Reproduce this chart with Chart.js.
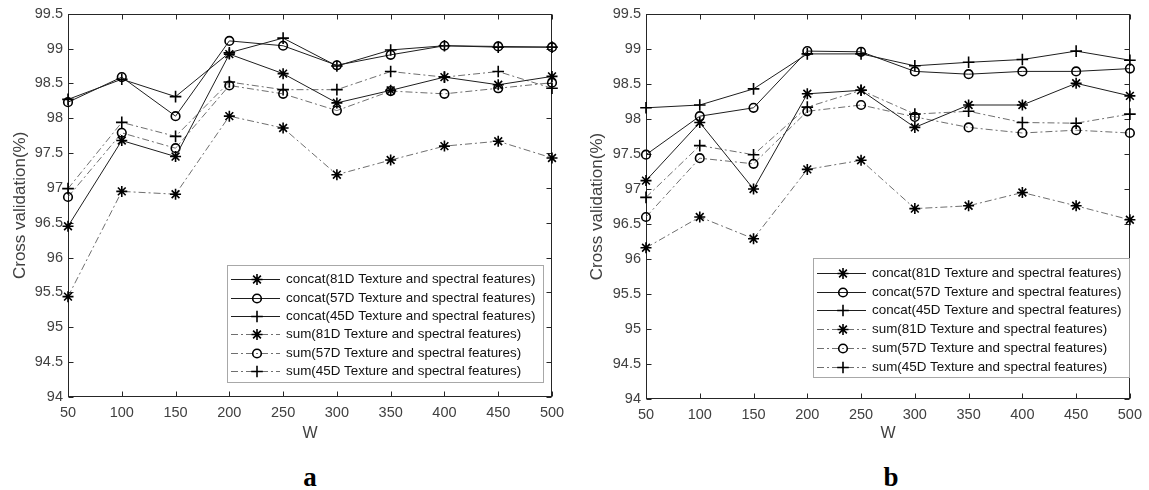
<!DOCTYPE html>
<html>
<head>
<meta charset="utf-8">
<script src="https://cdn.jsdelivr.net/npm/chart.js@4.4.0/dist/chart.umd.min.js"></script>
<style>
  body { margin: 0; background: #fff; width: 1149px; height: 490px; position: relative; overflow: hidden; }
  canvas { position: absolute; top: 0; }
  #panelA { left: 0; }
  #panelB { left: 575px; }
  .tag { position: absolute; font-family: "Liberation Serif", "DejaVu Serif", serif; font-weight: bold; font-size: 27px; color: #000; transform: translate(-50%, -50%); }
</style>
</head>
<body>
<canvas id="panelA" width="575" height="450"></canvas>
<canvas id="panelB" width="574" height="450"></canvas>
<div class="tag" style="left:310px; top:477px;">a</div>
<div class="tag" style="left:891px; top:477px;">b</div>

<script>
// DATA

const wValues = [50, 100, 150, 200, 250, 300, 350, 400, 450, 500];
const yTicks = [94, 94.5, 95, 95.5, 96, 96.5, 97, 97.5, 98, 98.5, 99, 99.5];

const seriesNames = [
    "concat(81D Texture and spectral features)",
    "concat(57D Texture and spectral features)",
    "concat(45D Texture and spectral features)",
    "sum(81D Texture and spectral features)",
    "sum(57D Texture and spectral features)",
    "sum(45D Texture and spectral features)",
];

// panel a
const aConcat81 = [96.45, 97.68, 97.45, 98.92, 98.64, 98.22, 98.40, 98.59, 98.48, 98.60];
const aConcat57 = [98.23, 98.59, 98.03, 99.11, 99.04, 98.76, 98.91, 99.04, 99.03, 99.02];
const aConcat45 = [98.27, 98.56, 98.31, 98.94, 99.15, 98.75, 98.98, 99.04, 99.02, 99.02];
const aSum81 = [95.44, 96.95, 96.91, 98.03, 97.86, 97.19, 97.40, 97.60, 97.67, 97.43];
const aSum57 = [96.87, 97.79, 97.57, 98.47, 98.35, 98.11, 98.39, 98.35, 98.43, 98.51];
const aSum45 = [96.99, 97.94, 97.74, 98.52, 98.41, 98.41, 98.67, 98.59, 98.67, 98.43];

// panel b
const bConcat81 = [97.12, 97.95, 97.00, 98.36, 98.41, 97.88, 98.20, 98.20, 98.51, 98.33];
const bConcat57 = [97.49, 98.04, 98.16, 98.97, 98.96, 98.68, 98.64, 98.68, 98.68, 98.72];
const bConcat45 = [98.16, 98.20, 98.43, 98.93, 98.93, 98.76, 98.81, 98.85, 98.97, 98.84];
const bSum81 = [96.16, 96.60, 96.29, 97.28, 97.41, 96.72, 96.76, 96.95, 96.76, 96.56];
const bSum57 = [96.60, 97.44, 97.36, 98.11, 98.20, 98.03, 97.88, 97.80, 97.84, 97.80];
const bSum45 = [96.88, 97.62, 97.49, 98.17, 98.41, 98.07, 98.11, 97.95, 97.94, 98.07];

// ESTILO

const FONT = '"Liberation Sans", Arial, Helvetica, sans-serif';
const AXIS_COLOR = "#262626";
const TEXT_COLOR = "#404040";
const markers = ["star", "circle", "cross", "star", "circle", "cross"];
const markerSize = { star: 5.5, circle: 4.3, cross: 5.8 };

// caixa do eixo com ticks para dentro (estilo matlab)
const boxTicks = {
    id: "boxTicks",
    beforeDatasetsDraw(chart) {
        const { ctx, chartArea: a, scales } = chart;
        const L = Math.round(a.left) + 0.5, R = Math.round(a.right) - 0.5;
        const T = Math.round(a.top) + 0.5, B = Math.round(a.bottom) - 0.5;
        ctx.save();
        ctx.strokeStyle = AXIS_COLOR;
        ctx.lineWidth = 1;
        ctx.strokeRect(L, T, R - L, B - T);
        ctx.beginPath();
        scales.x.ticks.forEach((t) => {
            const px = Math.round(scales.x.getPixelForValue(t.value)) + 0.5;
            ctx.moveTo(px, B); ctx.lineTo(px, B - 5);
            ctx.moveTo(px, T); ctx.lineTo(px, T + 5);
        });
        scales.y.ticks.forEach((t) => {
            const py = Math.round(scales.y.getPixelForValue(t.value)) + 0.5;
            ctx.moveTo(L, py); ctx.lineTo(L + 5, py);
            ctx.moveTo(R, py); ctx.lineTo(R - 5, py);
        });
        ctx.stroke();
        ctx.restore();
    },
};

// legenda dentro do grafico, com amostra de linha + marcador
const boxLegend = {
    id: "boxLegend",
    afterDatasetsDraw(chart, args, o) {
        const ctx = chart.ctx;
        ctx.save();
        ctx.fillStyle = "#fff";
        ctx.fillRect(o.left, o.top, o.width, o.height);
        ctx.strokeStyle = "#a8a8a8";
        ctx.lineWidth = 1;
        ctx.strokeRect(o.left + 0.5, o.top + 0.5, o.width, o.height);
        chart.data.datasets.forEach((ds, i) => {
            const yy = Math.round(o.top + o.firstRow + i * o.rowGap) + 0.5;
            ctx.strokeStyle = ds.borderColor;
            ctx.lineWidth = ds.borderWidth;
            ctx.setLineDash(ds.borderDash);
            ctx.beginPath();
            ctx.moveTo(o.left + 4, yy);
            ctx.lineTo(o.left + 53, yy);
            ctx.stroke();
            ctx.setLineDash([]);
            ctx.strokeStyle = "#000";
            ctx.fillStyle = "rgba(0,0,0,0)";
            ctx.lineWidth = ds.pointBorderWidth;
            Chart.helpers.drawPoint(ctx, {
                pointStyle: ds.pointStyle,
                radius: ds.pointRadius,
                rotation: 0,
                borderWidth: ds.pointBorderWidth,
            }, o.left + 30, yy);
            ctx.fillStyle = "#111";
            ctx.font = "13.4px " + FONT;
            ctx.textBaseline = "middle";
            ctx.fillText(ds.label, o.left + 59, yy);
        });
        ctx.restore();
    },
};

function makePanel(canvasId, series, area, legend, titlePad) {
    const cv = document.getElementById(canvasId);
    const W = cv.width, H = cv.height;

    const datasets = series.map((values, i) => {
        const dashed = i >= 3;
        return {
            label: seriesNames[i],
            data: values.map((v, k) => ({ x: wValues[k], y: v })),
            borderColor: dashed ? "#4a4a4a" : "#1e1e1e",
            borderWidth: dashed ? 0.8 : 1,
            borderDash: dashed ? [7, 3, 2, 3] : [],
            pointStyle: markers[i],
            pointRadius: markerSize[markers[i]],
            pointBorderColor: "#000",
            pointBackgroundColor: "rgba(0,0,0,0)",
            pointBorderWidth: 1.6,
            tension: 0,
            fill: false,
            clip: false,
        };
    });

    return new Chart(cv, {
        type: "line",
        data: { datasets },
        plugins: [boxTicks, boxLegend],
        options: {
            responsive: false,
            animation: false,
            devicePixelRatio: 1,
            layout: { padding: { left: 0, top: area.top, right: W - area.right, bottom: 0 } },
            plugins: {
                legend: { display: false },
                tooltip: { enabled: false },
                boxLegend: legend,
            },
            scales: {
                x: {
                    type: "linear",
                    min: 50,
                    max: 500,
                    afterBuildTicks: (s) => { s.ticks = wValues.map((v) => ({ value: v })); },
                    afterFit: (s) => { s.height = H - area.bottom; },
                    grid: { display: false, drawTicks: false },
                    border: { display: false },
                    ticks: {
                        autoSkip: false, maxRotation: 0, padding: 7,
                        color: TEXT_COLOR, font: { family: FONT, size: 14.5 },
                        callback: (v) => String(v),
                    },
                    title: {
                        display: true, text: "W", color: TEXT_COLOR,
                        font: { family: FONT, size: 16 }, padding: { top: 0, bottom: 7 },
                    },
                },
                y: {
                    type: "linear",
                    min: 94,
                    max: 99.5,
                    afterBuildTicks: (s) => { s.ticks = yTicks.map((v) => ({ value: v })); },
                    afterFit: (s) => { s.width = area.left; },
                    grid: { display: false, drawTicks: false },
                    border: { display: false },
                    ticks: {
                        autoSkip: false, padding: 5,
                        color: TEXT_COLOR, font: { family: FONT, size: 14.5 },
                        callback: (v) => String(+v.toFixed(1)),
                    },
                    title: {
                        display: true, text: "Cross validation(%)", color: TEXT_COLOR,
                        font: { family: FONT, size: 17 }, padding: { top: titlePad, bottom: 0 },
                    },
                },
            },
        },
    });
}

makePanel("panelA",
    [aConcat81, aConcat57, aConcat45, aSum81, aSum57, aSum45],
    { left: 68, right: 552, top: 13, bottom: 397 },
    { left: 227, top: 265, width: 316, height: 117, firstRow: 14.3, rowGap: 18.3 },
    10);

makePanel("panelB",
    [bConcat81, bConcat57, bConcat45, bSum81, bSum57, bSum45],
    { left: 71, right: 560, top: 14, bottom: 399 },
    { left: 238, top: 258, width: 316, height: 119, firstRow: 14.7, rowGap: 18.8 },
    12);
</script>
</body>
</html>
